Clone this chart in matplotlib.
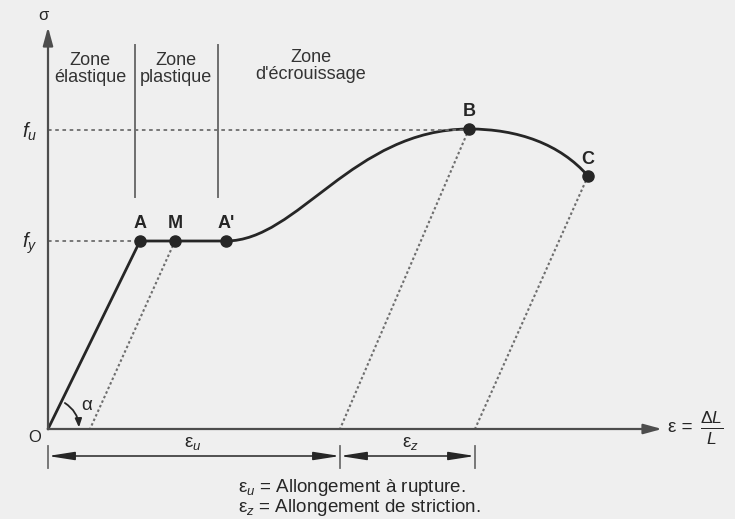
import matplotlib.pyplot as plt
from matplotlib.path import Path
from matplotlib.patches import PathPatch
import numpy as np

plt.rcParams['font.family'] = ['Liberation Sans', 'DejaVu Sans']
plt.rcParams['mathtext.fontset'] = 'custom'
plt.rcParams['mathtext.rm'] = 'Liberation Sans'
plt.rcParams['mathtext.it'] = 'Liberation Sans:italic'

# schematic values (arbitrary units)
f_y = 188
f_u = 299
pt_names = ["A", "M", "A'", "B", "C"]
pt_strain = [92, 127, 178, 421, 540]
pt_stress = [f_y, f_y, f_y, 300, 253]

# hardening curve A' -> B -> C as cubic bezier control points
hard_x = [178, 250, 305, 421, 470, 512, 540]
hard_y = [188, 188, 300, 300, 300, 285, 253]

# elastic unloading lines: point -> residual strain
unload_from = ["M", "B", "C"]
unload_to = [42, 292, 427]

zone_lines = [87, 170]
zone_labels = ["Zone\nélastique", "Zone\nplastique", "Zone\nd'écrouissage"]
zone_label_x = [42, 128, 263]

dark = "#262626"
axis_clr = "#4d4d4d"
grey = "#6e6e6e"

fig = plt.figure(figsize=(7.35, 5.19), dpi=100, facecolor="#efefef")
ax = fig.add_axes([0, 0, 1, 1])
ax.set_facecolor("#efefef")
ax.set_xlim(-48, 735 - 48)
ax.set_ylim(429 - 519, 429)
ax.axis("off")

# axes
ax.annotate("", xy=(614, 0), xytext=(0, 0),
            arrowprops=dict(arrowstyle="-|>,head_length=1.1,head_width=0.3",
                            color=axis_clr, lw=1.6, shrinkA=0, shrinkB=0))
ax.annotate("", xy=(0, 402), xytext=(0, 0),
            arrowprops=dict(arrowstyle="-|>,head_length=1.1,head_width=0.3",
                            color=axis_clr, lw=1.6, shrinkA=0, shrinkB=0))
ax.text(-5, 414, "σ", fontsize=12, ha="center", va="center", color=dark)
ax.text(-13, -8, "O", fontsize=12, ha="center", va="center", color=dark)
ax.text(620, 1, "ε =", fontsize=13.5, ha="left", va="center", color=dark)
ax.text(664, 1, r"$\frac{\Delta L}{L}$", fontsize=18, ha="center", va="center",
        color=dark)

# reference levels
ax.plot([0, pt_strain[0]], [f_y, f_y], ls=(0, (2, 2)), color=grey, lw=1.3)
ax.plot([0, pt_strain[3]], [f_u, f_u], ls=(0, (2, 2)), color=grey, lw=1.3)
ax.text(-18, f_y - 2, "$f_y$", fontsize=14.5, ha="center", va="center", color=dark)
ax.text(-18, f_u - 2, "$f_u$", fontsize=14.5, ha="center", va="center", color=dark)

# zones
for x in zone_lines:
    ax.plot([x, x], [232, 384], color=grey, lw=1.4)
for x, lab in zip(zone_label_x, zone_labels):
    ax.text(x, 360 if x < 200 else 363, lab, fontsize=13, ha="center",
            va="center", color="#333333", linespacing=1.0)

# elastic line and plateau
ax.plot([0, pt_strain[0], pt_strain[2]], [0, f_y, f_y], color=dark, lw=2.0,
        solid_capstyle="round")
codes = [Path.MOVETO] + [Path.CURVE4] * 6
hard = Path(np.column_stack([hard_x, hard_y]), codes)
ax.add_patch(PathPatch(hard, fc="none", ec=dark, lw=2.0))

# unloading lines
for name, e0 in zip(unload_from, unload_to):
    i = pt_names.index(name)
    ax.plot([pt_strain[i], e0], [pt_stress[i], 0], ls=(0, (1.2, 1.2)),
            color=grey, lw=1.5)

# points
ax.plot(pt_strain, pt_stress, "o", color=dark, ms=8, zorder=5)
for name, x, y in zip(pt_names, pt_strain, pt_stress):
    ax.text(x, y + 17, name, fontsize=13, ha="center", va="center",
            color=dark, fontweight="bold")

# angle alpha
r = 31
a0, a1 = np.radians(57), np.radians(3)
ax.annotate("", xy=(r * np.cos(a1), r * np.sin(a1)),
            xytext=(r * np.cos(a0), r * np.sin(a0)),
            arrowprops=dict(arrowstyle="-|>,head_length=0.5,head_width=0.2",
                            connectionstyle="arc3,rad=-0.25", color=dark,
                            lw=1.3, shrinkA=0, shrinkB=0))
ax.text(39, 23, "α", fontsize=13.5, ha="center", va="center", color=dark)

# dimension lines
dim_y = -27
for x in [0, unload_to[1], unload_to[2]]:
    ax.plot([x, x], [-17, -39], color=grey, lw=1.3)
for xa, xb in [(0, unload_to[1]), (unload_to[1], unload_to[2])]:
    ax.annotate("", xy=(xb, dim_y), xytext=(xa, dim_y),
                arrowprops=dict(arrowstyle="<|-|>,head_length=1.6,head_width=0.25",
                                color=dark, lw=1.1, shrinkA=0, shrinkB=0))
ax.text(145, -14, "ε$_u$", fontsize=13.5, ha="center", va="center", color=dark)
ax.text(362, -14, "ε$_z$", fontsize=13.5, ha="center", va="center", color=dark)

ax.text(190, -59, "ε$_u$ = Allongement à rupture.", fontsize=13.5, ha="left",
        va="center", color=dark)
ax.text(190, -78, "ε$_z$ = Allongement de striction.", fontsize=13.5, ha="left",
        va="center", color=dark)

fig.savefig("out.png", dpi=100, facecolor=fig.get_facecolor())
